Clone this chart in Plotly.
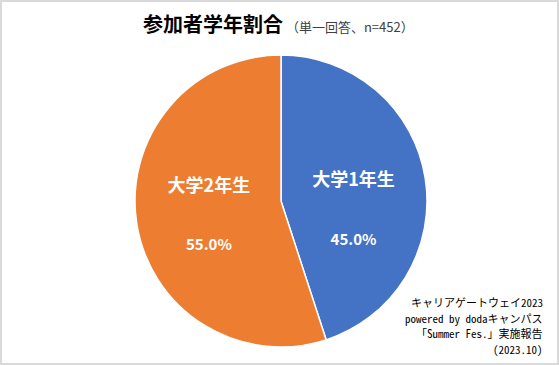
import plotly.graph_objects as go

labels = ["大学1年生", "大学2年生"]
values = [45.0, 55.0]
colors = ["#4472C4", "#ED7D31"]

title_main = "参加者学年割合"
title_sub = "（単一回答、n=452）"
source_lines = ["キャリアゲートウェイ2023", "powered by dodaキャンパス", "「Summer Fes.」実施報告", "(2023.10)"]

W, H = 559, 365
cx, cy, r = 281, 201, 146

tmpl_blue = " <br> <br><span style='font-size:18px'><b>%{label}</b></span><br> <br> <br><b>%{percent:.1%}</b>"
tmpl_orange = "<span style='font-size:18px'><b>%{label}</b></span><br> <br> <br><b>%{percent:.1%}</b>"

fig = go.Figure(go.Pie(
    labels=labels,
    values=values,
    sort=False,
    direction="clockwise",
    rotation=0,
    marker=dict(colors=colors, line=dict(color="white", width=1.5)),
    texttemplate=[tmpl_blue, tmpl_orange],
    textposition="inside",
    insidetextorientation="horizontal",
    textfont=dict(family="Noto Sans CJK JP", size=15, color="white"),
    hoverinfo="label+percent",
    showlegend=False,
    domain=dict(x=[(cx - r) / W, (cx + r) / W], y=[(H - cy - r) / H, (H - cy + r) / H]),
))

src_y = [302, 318, 333, 349]
annotations = [
    dict(text=line, x=545 / W, xanchor="right", xref="paper",
         y=1 - yy / H, yanchor="middle", yref="paper",
         align="right", showarrow=False,
         font=dict(family="Noto Sans Mono CJK JP", size=11, color="#000000"))
    for line, yy in zip(source_lines, src_y)
]

fig.update_layout(
    width=W, height=H,
    margin=dict(l=0, r=0, t=0, b=0),
    paper_bgcolor="white",
    title=dict(
        text=f"<b>{title_main}</b><span style='font-size:13px;color:#404040'> {title_sub}</span>",
        x=143 / W, xanchor="left", xref="paper",
        y=1 - 25 / H, yanchor="middle", yref="paper",
        font=dict(family="Noto Sans CJK JP", size=20, color="#000000"),
    ),
    annotations=annotations,
    shapes=[dict(type="rect", xref="paper", yref="paper", x0=0, x1=1, y0=0, y1=1,
                 line=dict(color="#d9d9d9", width=4))],
)

fig.write_html("out.html", config={"displayModeBar": False},
               post_script="document.body.style.margin='0';document.body.style.overflow='hidden';")
